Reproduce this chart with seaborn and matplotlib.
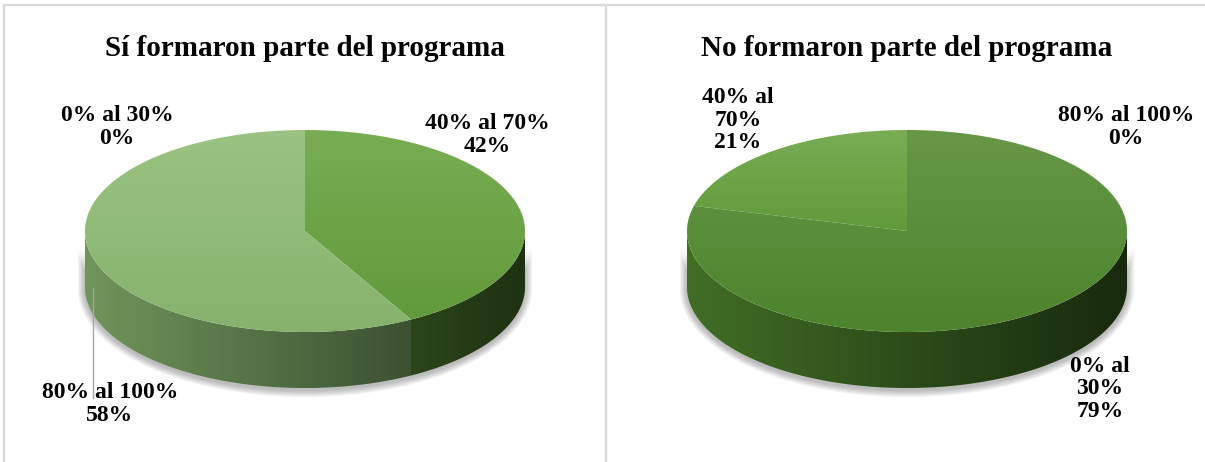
import numpy as np
import matplotlib
matplotlib.use("Agg")
import matplotlib.pyplot as plt
from matplotlib.patches import Polygon
from matplotlib.colors import to_rgb
import seaborn as sns

# ---- data -------------------------------------------------------------
categories = ["0% al 30%", "40% al 70%", "80% al 100%"]
values_si = [0, 42, 58]
values_no = [79, 21, 0]
title_si = "Sí formaron parte del programa"
title_no = "No formaron parte del programa"
category_colors = ["#518A2E", "#66A23D", "#8DBB72"]

# ---- style ------------------------------------------------------------
sns.set_theme(style="white")
plt.rcParams["font.family"] = ["Liberation Serif", "DejaVu Serif"]
plt.rcParams["font.weight"] = "bold"

W, H = 1205, 462
fig = plt.figure(figsize=(W / 100, H / 100), dpi=100)
ax = fig.add_axes([0, 0, 1, 1])
ax.set_xlim(0, W)
ax.set_ylim(H, 0)
ax.axis("off")

RX, RY, DEPTH, CY = 220, 101, 56, 231


def rim(cx, cy, a0, a1, n=240, rx=RX, ry=RY):
    t = np.radians(np.linspace(a0, a1, n))
    return cx + rx * np.cos(t), cy - ry * np.sin(t)


def scale(c, f):
    r = np.array(to_rgb(c))
    return np.clip(r * f, 0, 1)


def lighten(c, f):
    r = np.array(to_rgb(c))
    return np.clip(r + (1 - r) * f, 0, 1)


def gradient_fill(poly_xy, c0, c1, horizontal, zorder):
    patch = Polygon(poly_xy, closed=True, facecolor="none", edgecolor="none",
                    transform=ax.transData)
    ax.add_patch(patch)
    xs, ys = poly_xy[:, 0], poly_xy[:, 1]
    x0, x1, y0, y1 = xs.min(), xs.max(), ys.min(), ys.max()
    n = 256
    s = np.linspace(0, 1, n)[:, None]
    cols = (1 - s) * np.asarray(c0) + s * np.asarray(c1)
    img = cols[None, :, :] if horizontal else cols[:, None, :]
    im = ax.imshow(img, extent=(x0 - 1, x1 + 1, y1 + 1, y0 - 1), origin="upper",
                   aspect="auto", interpolation="bilinear", zorder=zorder)
    im.set_clip_path(patch)


def pie3d(cx, values, title):
    fracs = np.asarray(values, float) / np.sum(values)
    # soft drop shadow hugging the lower rim of the cylinder
    for k in range(9, 0, -1):
        xb, yb = rim(cx, CY + DEPTH + 2, 360, 180, rx=RX + k * 0.8, ry=RY + k * 0.8)
        xt, yt = rim(cx, CY + 14, 180, 360, rx=RX + k * 0.8, ry=RY)
        ax.add_patch(Polygon(np.c_[np.r_[xb, xt], np.r_[yb, yt]], closed=True,
                             facecolor="#404040", edgecolor="none",
                             alpha=0.045, zorder=1))
    start = 90.0
    spans = []
    for f, col in zip(fracs, category_colors):
        end = start - f * 360.0
        spans.append((end, start, col))
        start = end
    # side walls (visible front half: angles -180..0)
    for a_lo, a_hi, col in spans:
        if a_hi - a_lo <= 0:
            continue
        for k in (-360, 0, 360):
            lo, hi = max(a_lo, -180 + k), min(a_hi, 0 + k)
            if lo >= hi:
                continue
            xt, yt = rim(cx, CY, lo, hi)
            xb, yb = rim(cx, CY + DEPTH, hi, lo)
            poly = np.c_[np.r_[xt, xb], np.r_[yt, yb]]
            p0 = (xt.min() - (cx - RX)) / (2 * RX)
            p1 = (xt.max() - (cx - RX)) / (2 * RX)
            c0 = scale(col, 0.80 - 0.5 * p0)
            c1 = scale(col, 0.80 - 0.5 * p1)
            gradient_fill(poly, c0, c1, True, 2)
    # top faces
    for a_lo, a_hi, col in spans:
        if a_hi - a_lo <= 0:
            continue
        xs, ys = rim(cx, CY, a_lo, a_hi)
        poly = np.c_[np.r_[cx, xs], np.r_[CY, ys]]
        gradient_fill(poly, lighten(col, 0.12), scale(col, 0.95), False, 3)
    ax.text(cx, 56, title, ha="center", va="baseline", fontsize=21,
            fontweight="bold", color="black", zorder=6)


pie3d(305, values_si, title_si)
pie3d(907, values_no, title_no)


def label(x, y, cat, val, wrap=False):
    txt = cat.replace(" al ", " al\n") if wrap else cat
    ax.text(x, y, f"{txt}\n{val}%", ha="center", va="center", fontsize=17,
            fontweight="bold", linespacing=1.12, color="black", zorder=6)


label(117, 127, categories[0], values_si[0])
label(487, 135, categories[1], values_si[1])
label(110, 404, categories[2], values_si[2])
ax.plot([93, 93], [288, 398], color="#A6A6A6", lw=1.0, zorder=4)

label(738, 120, categories[1], values_no[1], wrap=True)
label(1126, 127, categories[2], values_no[2])
label(1100, 389, categories[0], values_no[0], wrap=True)

# panel frames
frame = "#D9D9D9"
ax.plot([4, W], [5, 5], color=frame, lw=1.6, zorder=7)
ax.plot([4, 4], [5, H], color=frame, lw=1.6, zorder=7)
ax.plot([606, 606], [5, H], color=frame, lw=1.6, zorder=7)

fig.savefig("out.png", dpi=100)
